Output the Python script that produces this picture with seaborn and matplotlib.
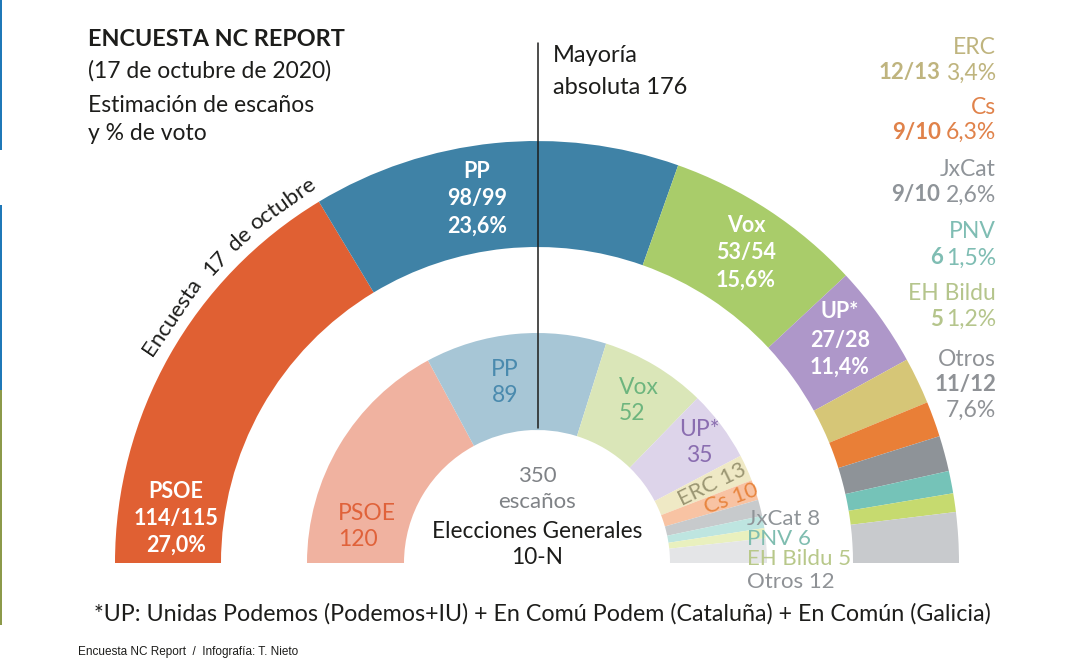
import numpy as np
import matplotlib.pyplot as plt
import seaborn as sns

# seats, midpoint of the poll range (Otros is what fills the arc in the picture)
partidos = ['PSOE', 'PP', 'Vox', 'UP*', 'ERC', 'Cs', 'JxCat', 'PNV', 'EH Bildu', 'Otros']
encuesta = [114.5, 98.5, 53.5, 27.5, 12.5, 9.5, 9.5, 6, 5, 13.5]
elecciones = [120, 89, 52, 35, 13, 10, 8, 6, 5, 12]

colores_encuesta = ['#E06033', '#3F82A6', '#A9CC6A', '#AE97C9', '#D6C677',
                    '#E97F37', '#8E9398', '#75C3B8', '#C6DA6F', '#C8CACD']
colores_elecciones = ['#F0B2A0', '#A7C6D6', '#DAE6B8', '#DDD4EA', '#EFE9C5',
                      '#F8C3A3', '#C7CACC', '#BEE5E0', '#E9F0BE', '#E4E5E7']

rangos = ['114/115', '98/99', '53/54', '27/28', '12/13', '9/10', '9/10', '6', '5', '11/12']
votos = ['27,0%', '23,6%', '15,6%', '11,4%', '3,4%', '6,3%', '2,6%', '1,5%', '1,2%', '7,6%']

sns.set_theme(style='white')
plt.rcParams['font.family'] = ['Lato', 'DejaVu Sans']

W, H = 1079, 672
fig = plt.figure(figsize=(W / 100, H / 100), dpi=100)
ax = fig.add_axes([0, 0, 1, 1])

CX, CY = 537, H - 563


def donut(values, colors, r_out, r_in):
    # half circle: 350 seats take 180 degrees
    ax.pie(np.array(values) / 700, colors=sns.color_palette(colors), normalize=False,
           startangle=180, counterclock=False, radius=r_out, center=(CX, CY),
           wedgeprops=dict(width=r_out - r_in, linewidth=0))


def t(x, y, s, size=17, color='#1d1d1b', ha='left', weight='normal', rot=0, family=None):
    kw = {'family': family} if family else {}
    # va center sits about 2 px high for this font
    ax.text(x, H - y - 2, s, fontsize=size, color=color, ha=ha, va='center', fontweight=weight,
            rotation=rot, rotation_mode='anchor', **kw)


donut(encuesta, colores_encuesta, 422, 316)
donut(elecciones, colores_elecciones, 230, 133)

ax.set_xlim(0, W)
ax.set_ylim(0, H)
ax.set_aspect('equal')
ax.axis('off')

# screenshot edge on the left
ax.axvspan(0, 2, ymin=1 - 150 / H, ymax=1, color='#1F78B8', lw=0)
ax.axvspan(0, 2, ymin=1 - 390 / H, ymax=1 - 205 / H, color='#1F78B8', lw=0)
ax.axvspan(0, 2, ymin=1 - 625 / H, ymax=1 - 390 / H, color='#8C9A4A', lw=0)

# majority line
ax.plot([538, 538], [H - 43, H - 428], color='#1d1d1b', lw=1.1)

# header
t(88, 37, 'ENCUESTA NC REPORT', size=16.8, weight='bold')
t(88, 69, '(17 de octubre de 2020)', size=16.5)
t(88, 104, 'Estimación de escaños', size=16.5)
t(88, 131, 'y % de voto', size=16.5)
t(553, 54, 'Mayoría', size=17)
t(553, 85, 'absoluta 176', size=17)

# curved label along the outer ring
for palabra, ang in zip(['Encuesta', '17', 'de', 'octubre'], [34.2, 43.2, 47.6, 54.8]):
    a = np.radians(ang)
    x = CX - 441 * np.cos(a)
    y = 563 - 441 * np.sin(a)
    t(x, y, palabra, size=16, ha='center', rot=90 - ang)

# labels inside the outer ring
for i, x, ys in [(0, 176, (489, 516, 543)), (1, 477, (169, 196, 224)),
                 (2, 746, (223, 251, 278)), (3, 840, (310, 338, 365))]:
    t(x, ys[0], partidos[i], size=15.5, color='white', ha='center', weight='bold')
    t(x, ys[1], rangos[i], size=15.5, color='white', ha='center', weight='bold')
    t(x, ys[2], votos[i], size=15.5, color='white', ha='center', weight='bold')

# small parties, right column
for i, color, y1, y2, xr in [
        (4, '#BFB47E', 45, 71, 940), (5, '#E0824A', 105, 130, 941),
        (6, '#8F9499', 167, 193, 940), (7, '#7FBDB3', 230, 256, 943),
        (8, '#B5C58C', 291, 317, 943)]:
    t(996, y1, partidos[i], size=16.5, color=color, ha='right')
    t(xr, y2, rangos[i], size=16, color=color, ha='right', weight='bold')
    t(996, y2, votos[i], size=16.5, color=color, ha='right')
t(996, 357, partidos[9], size=16.5, color='#8F9296', ha='right')
t(996, 383, rangos[9], size=16, color='#8F9296', ha='right', weight='bold')
t(996, 408, votos[9], size=16.5, color='#8F9296', ha='right')

# labels of the inner ring
t(338, 512, partidos[0], size=16.5, color='#E0623A')
t(338, 538, str(elecciones[0]), size=16.5, color='#E0623A')
t(505, 367, partidos[1], size=16.5, color='#4A8AAE', ha='center')
t(505, 393, str(elecciones[1]), size=16.5, color='#4A8AAE', ha='center')
t(619, 385, partidos[2], size=16.5, color='#6DB57E')
t(619, 411, str(elecciones[2]), size=16.5, color='#6DB57E')
t(699, 427, partidos[3], size=16.5, color='#8A6DB0', ha='center')
t(699, 453, str(elecciones[3]), size=16.5, color='#8A6DB0', ha='center')
t(712, 483, f'{partidos[4]} {elecciones[4]}', size=16, color='#9B9673', ha='center', rot=26)
t(731, 497, f'{partidos[5]} {elecciones[5]}', size=16, color='#E8853F', ha='center', rot=20)
t(747, 517, f'{partidos[6]} {elecciones[6]}', size=16, color='#8F9498')
t(747, 537, f'{partidos[7]} {elecciones[7]}', size=16, color='#7FBDB0')
t(747, 557, f'{partidos[8]} {elecciones[8]}', size=16, color='#B8C88A')
t(747, 580, f'{partidos[9]} {elecciones[9]}', size=16, color='#8F9296')

# centre of the small ring
t(537, 474, '350', size=16, color='#7F8286', ha='center')
t(537, 500, 'escaños', size=16, color='#7F8286', ha='center')
t(537, 529, 'Elecciones Generales', size=16.3, ha='center')
t(537, 555, '10-N', size=16.3, ha='center')

t(542, 612, '*UP: Unidas Podemos (Podemos+IU) + En Comú Podem (Cataluña) + En Común (Galicia)',
  size=16.75, ha='center')
t(78, 650, 'Encuesta NC Report  /  Infografía: T. Nieto', size=8.5, family='Liberation Sans')

fig.savefig('out.png', dpi=100)
